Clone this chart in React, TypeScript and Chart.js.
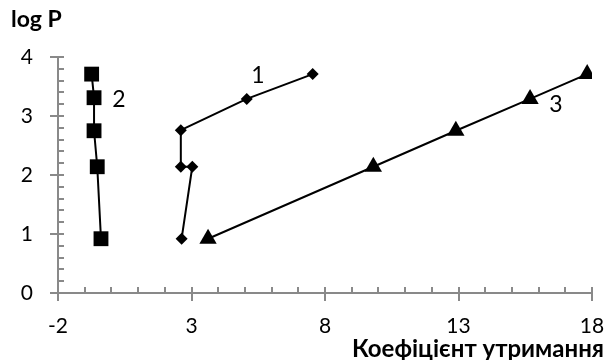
import React, { useEffect, useRef } from "react";
import { Chart, registerables } from "chart.js";

Chart.register(...registerables);

const xTickValues = [-2, 3, 8, 13, 18];
const yTickValues = [0, 1, 2, 3, 4];

const series1X = [2.63, 3.03, 2.6, 2.6, 5.07, 7.54];
const series1Y = [0.92, 2.14, 2.14, 2.76, 3.29, 3.71];

const series2X = [-0.39, -0.53, -0.65, -0.65, -0.74];
const series2Y = [0.92, 2.14, 2.75, 3.31, 3.71];

const series3X = [3.62, 9.81, 12.9, 15.68, 17.82];
const series3Y = [0.92, 2.14, 2.75, 3.29, 3.71];

const seriesLabels = ["1", "2", "3"];
const labelX = [5.49, 0.28, 16.65];
const labelY = [3.69, 3.27, 3.2];

const yTitle = "log P";
const xTitle = "Коефіцієнт утримання";

const FONT = "Lato, 'Open Sans', sans-serif";
const AXIS_COLOR = "#898989";

const toPoints = (xs: number[], ys: number[]) => xs.map((x, i) => ({ x, y: ys[i] }));

const decorPlugin = {
  id: "decor",
  afterDraw(chart: any) {
    const ctx = chart.ctx as CanvasRenderingContext2D;
    const xs = chart.scales.x;
    const ys = chart.scales.y;
    const x0 = xs.getPixelForValue(xs.min);
    const y0 = ys.getPixelForValue(ys.min);
    ctx.save();
    ctx.strokeStyle = AXIS_COLOR;
    ctx.lineWidth = 2;
    for (let v = xs.min; v <= xs.max + 1e-9; v += 1) {
      const px = Math.round(xs.getPixelForValue(v));
      const major = Math.abs((v - xs.min) % 5) < 1e-9;
      ctx.beginPath();
      ctx.moveTo(px, y0 - 6);
      ctx.lineTo(px, major ? y0 + 8 : y0);
      ctx.stroke();
    }
    for (let i = 0; i <= 20; i++) {
      const v = ys.min + i * 0.2;
      const py = Math.round(ys.getPixelForValue(v));
      const major = i % 5 === 0;
      ctx.beginPath();
      ctx.moveTo(major ? x0 - 8 : x0, py);
      ctx.lineTo(x0 + 6, py);
      ctx.stroke();
    }
    ctx.fillStyle = "#000";
    ctx.font = `23px ${FONT}`;
    ctx.textAlign = "center";
    ctx.textBaseline = "middle";
    seriesLabels.forEach((t, i) => {
      ctx.fillText(t, xs.getPixelForValue(labelX[i]), ys.getPixelForValue(labelY[i]));
    });
    ctx.font = `bold 23px ${FONT}`;
    ctx.textAlign = "left";
    ctx.fillText(yTitle, 11, 20);
    ctx.font = `bold 24px ${FONT}`;
    ctx.textAlign = "right";
    ctx.fillText(xTitle, 604, 349);
    ctx.restore();
  },
};

export default function App() {
  const ref = useRef<HTMLCanvasElement | null>(null);
  useEffect(() => {
    if (!ref.current) return;
    const lineStyle = {
      borderColor: "#000",
      backgroundColor: "#000",
      pointBackgroundColor: "#000",
      pointBorderColor: "#000",
      borderWidth: 2,
      pointBorderWidth: 0,
      showLine: true,
      tension: 0,
    };
    const chart = new Chart(ref.current, {
      type: "scatter",
      data: {
        datasets: [
          { ...lineStyle, label: "1", data: toPoints(series1X, series1Y), pointStyle: "rectRot", pointRadius: 6 },
          { ...lineStyle, label: "2", data: toPoints(series2X, series2Y), pointStyle: "rect", pointRadius: 10.5 },
          { ...lineStyle, label: "3", data: toPoints(series3X, series3Y), pointStyle: "triangle", pointRadius: 10 },
        ],
      },
      options: {
        animation: false,
        responsive: false,
        events: [],
        layout: { padding: { left: 0, top: 57, right: 14, bottom: 0 } },
        plugins: { legend: { display: false }, tooltip: { enabled: false }, title: { display: false } },
        scales: {
          x: {
            type: "linear",
            min: -2,
            max: 18,
            afterBuildTicks: (s: any) => { s.ticks = xTickValues.map((v) => ({ value: v })); },
            afterFit: (s: any) => { s.height = 67; s.paddingLeft = 0; s.paddingRight = 0; },
            grid: { display: false, drawTicks: false },
            border: { display: true, color: AXIS_COLOR, width: 2 },
            ticks: { color: "#000", font: { family: FONT, size: 21 }, padding: 21, maxRotation: 0 },
          },
          y: {
            type: "linear",
            min: 0,
            max: 4,
            afterBuildTicks: (s: any) => { s.ticks = yTickValues.map((v) => ({ value: v })); },
            afterFit: (s: any) => { s.width = 58; s.paddingTop = 0; s.paddingBottom = 0; },
            grid: { display: false, drawTicks: false },
            border: { display: true, color: AXIS_COLOR, width: 2 },
            ticks: { color: "#000", font: { family: FONT, size: 21 }, padding: 25 },
          },
        },
      },
      plugins: [decorPlugin],
    });
    return () => chart.destroy();
  }, []);
  return (
    <canvas
      ref={ref}
      width={606}
      height={360}
      style={{ position: "absolute", left: 0, top: 0, width: 606, height: 360 }}
    />
  );
}
